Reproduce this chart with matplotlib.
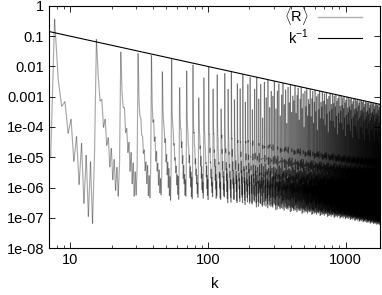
import numpy as np
import matplotlib.pyplot as plt
from matplotlib.collections import LineCollection
from matplotlib.lines import Line2D

plt.rcParams['font.family'] = ['Liberation Sans', 'DejaVu Sans']
plt.rcParams['mathtext.fontset'] = 'custom'
plt.rcParams['mathtext.rm'] = 'Liberation Sans'

# spikes come every ~7.8 in k, first one at k ~ 7.7
spike_step = 7.8
k_first = 7.7
k_max = 1780

# envelope of <R> (log10 values) at a few k
k_anchor = [7.7, 15.5, 23.3, 31.1, 50, 100, 300, 1000, 1780]
post_lvl = [-2.45, -2.45, -2.8, -3.1, -3.5, -3.8, -4.3, -4.7, -4.8]
trough_lvl = [-5.2, -5.3, -5.5, -5.6, -5.7, -5.8, -5.9, -6.1, -6.2]
dip_depth = [2.0, 1.1, 0.9, 0.8, 0.7, 0.6, 0.8, 0.9, 1.0]

# spike tops relative to k^-1 (decades): first ones, then the repeating mix
spike_first = [0.45, 0.09, -0.15, -0.07, -0.04]
spike_cycle = [-0.5, 0.0, -0.9, -0.3, -0.05, -1.1, -0.4, 0.0, -0.7, -0.2,
               -1.3, -0.1, -0.6, 0.0, -0.9, -0.35]

# shape of one period: decay fraction, dip fraction, small wobble
decay_shape = [0, 0.12, 0.24, 0.35, 0.46, 0.56, 0.65, 0.72, 0.79, 0.85,
               0.9, 0.95, 1.0, 0.98, 0.93]
dip_shape = [0.25, 0.3, 0.35, 0.45, 0.5, 0.6, 0.65, 0.75, 0.8, 0.85,
             0.9, 0.95, 1.0, 1.0, 0.9]
wobble = [0.0, 0.12, -0.1, 0.2, -0.05, 0.1, -0.15, 0.05, 0.18, -0.08, 0.0]

yticks = [1, 0.1, 0.01, 0.001, 1e-4, 1e-5, 1e-6, 1e-7, 1e-8]
ylabels = ['1', '0.1', '0.01', '0.001', '1e-04', '1e-05', '1e-06', '1e-07', '1e-08']
xticks = [10, 100, 1000]
xlabels = ['10', '100', '1000']

# build the <R> series period by period
n_sub = len(decay_shape) + 1
dk = spike_step / n_sub
la = np.log10(k_anchor)
ks, lv = [], []
m = -1
while True:
    s = k_first + m * spike_step
    if s > k_max:
        break
    ls = np.log10(max(s, k_first))
    P = np.interp(ls, la, post_lvl)
    T = np.interp(ls, la, trough_lvl)
    D = np.interp(ls, la, dip_depth)
    if m < 0:
        off = 0.0
    elif m < len(spike_first):
        off = spike_first[m]
    else:
        off = spike_cycle[(m - len(spike_first)) % len(spike_cycle)]
    for i in range(n_sub):
        k = s + i * dk
        if k < 6.9 or k > k_max + 5:
            continue
        if i == 0:
            v = -np.log10(s) + off
        else:
            j = i - 1
            v = P + (T - P) * decay_shape[j] + 0.5 * wobble[(3 * m + j) % len(wobble)]
            if j % 2 == 1:
                v -= D * dip_shape[j]
        ks.append(k)
        lv.append(v)
    m += 1

ks = np.array(ks)
R = 10.0 ** np.array(lv)

fig = plt.figure(figsize=(3.82, 2.95), dpi=100)
ax = fig.add_axes([0.128, 0.159, 0.867, 0.821])

pts = np.column_stack([ks, R])
segs = np.stack([pts[:-1], pts[1:]], axis=1)
ax.add_collection(LineCollection(segs, colors='k', alpha=0.34, linewidths=0.85))

kk = np.array([7.0, k_max])
ax.plot(kk, 1.0 / kk, color='k', lw=0.8)

ax.set_xscale('log')
ax.set_yscale('log')
ax.set_xlim(7, k_max)
ax.set_ylim(1e-8, 1)
ax.set_yticks(yticks)
ax.set_yticklabels(ylabels)
ax.set_xticks(xticks)
ax.set_xticklabels(xlabels)
ax.tick_params(which='both', direction='in', top=True, right=True, labelsize=10.5)
ax.tick_params(which='major', length=4, width=0.6)
ax.tick_params(which='minor', length=2, width=0.5)
ax.tick_params(axis='y', which='minor', length=1.5)
for sp in ax.spines.values():
    sp.set_linewidth(0.8)
ax.set_xlabel('k', fontsize=11, labelpad=7)

handles = [Line2D([], [], color='#b0b0b0', lw=1.0), Line2D([], [], color='k', lw=0.8)]
ax.legend(handles, [r'$\langle\mathrm{R}\rangle$', r'k$^{-1}$'], loc='upper right',
          frameon=False, markerfirst=False, handlelength=3.0, fontsize=10.5,
          labelspacing=0.0, borderaxespad=0.3, handletextpad=0.6,
          bbox_to_anchor=(0.975, 1.045))

fig.savefig('out.png', dpi=100)
